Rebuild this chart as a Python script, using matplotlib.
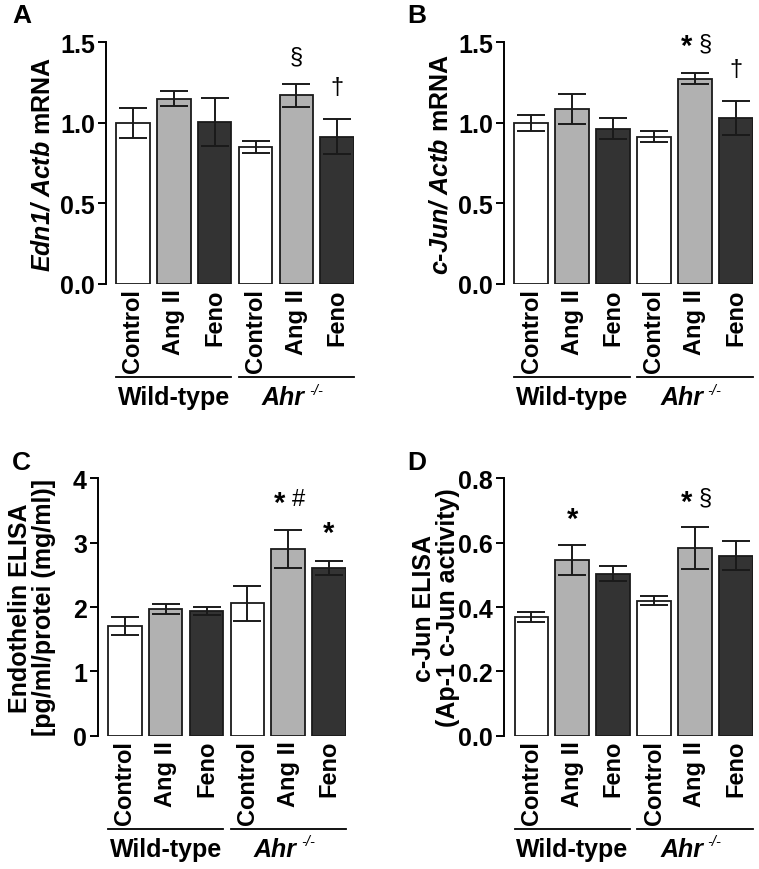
import numpy as np
import matplotlib
matplotlib.use('Agg')
import matplotlib.pyplot as plt

plt.rcParams['font.family'] = ['Liberation Sans', 'DejaVu Sans']
plt.rcParams['font.weight'] = 'bold'
plt.rcParams['mathtext.fontset'] = 'custom'
plt.rcParams['mathtext.rm'] = 'Liberation Sans:bold'
plt.rcParams['mathtext.bf'] = 'Liberation Sans:bold'
plt.rcParams['mathtext.it'] = 'Liberation Sans:italic:bold'
plt.rcParams['mathtext.bfit'] = 'Liberation Sans:italic:bold'

# ---- data ----
groups = ['Control', 'Ang II', 'Feno', 'Control', 'Ang II', 'Feno']
colors = ['white', '#b1b1b1', '#333333', 'white', '#b1b1b1', '#333333']

edn1_mean = [1.00, 1.15, 1.005, 0.85, 1.17, 0.915]
edn1_err = [0.095, 0.045, 0.15, 0.035, 0.073, 0.11]

cjun_mean = [1.00, 1.085, 0.965, 0.915, 1.275, 1.03]
cjun_err = [0.05, 0.095, 0.065, 0.035, 0.035, 0.105]

et_mean = [1.71, 1.97, 1.94, 2.06, 2.90, 2.61]
et_err = [0.14, 0.08, 0.06, 0.27, 0.30, 0.11]

cjel_mean = [0.37, 0.547, 0.504, 0.42, 0.583, 0.56]
cjel_err = [0.016, 0.047, 0.022, 0.015, 0.066, 0.044]

W, H = 759, 870
fig = plt.figure(figsize=(W/100, H/100), dpi=100)

def fx(px): return px / W
def fy(py): return 1 - py / H

def panel(rect, mean, err, ymax, yticks, yticklabels, ylabel, letter, letter_xy,
          notes, ylab_x=None):
    l, r, t, b = rect
    ax = fig.add_axes([fx(l), fy(b), fx(r) - fx(l), fy(t) - fy(b)])
    x = np.arange(len(mean))
    ax.bar(x, mean, width=0.82, color=colors, edgecolor='#1a1a1a', linewidth=1.3, zorder=2)
    ax.errorbar(x, mean, yerr=err, fmt='none', ecolor='#1a1a1a', elinewidth=1.4,
                capsize=10, capthick=1.4, zorder=3)
    ax.set_xlim(-0.66, 5.41)
    ax.set_ylim(0, ymax)
    for s in ['top', 'right', 'bottom']:
        ax.spines[s].set_visible(False)
    ax.spines['left'].set_linewidth(1.4)
    ax.spines['left'].set_bounds(0, ymax)
    ax.set_yticks(yticks)
    ax.set_yticklabels(yticklabels, fontsize=18, fontweight='bold')
    ax.tick_params(axis='y', length=6, width=1.4, pad=2)
    ax.set_xticks(x)
    ax.set_xticklabels(groups, rotation=90, fontsize=17, fontweight='bold')
    ax.tick_params(axis='x', length=0, pad=3)
    ax.set_ylabel(ylabel, fontsize=18, fontweight='bold', labelpad=4,
                  linespacing=1.0)
    if ylab_x is not None:
        ax.yaxis.set_label_coords(ylab_x, 0.5)
    fig.text(fx(letter_xy[0]), fy(letter_xy[1]), letter, fontsize=19,
             fontweight='bold', ha='left', va='center')
    for xi, yv, txt, wt in notes:
        ax.text(xi, yv, txt, ha='center', va='center',
                fontsize=21 if txt == '*' else 17, fontweight=wt)
    # group lines and labels
    line_y = b + 93
    text_y = b + 113
    for i0 in [0, 3]:
        x0 = ax.transData.transform((i0 - 0.41, 0))[0]
        x1 = ax.transData.transform((i0 + 2.41, 0))[0]
        fig.add_artist(plt.Line2D([x0 / W, x1 / W], [fy(line_y), fy(line_y)],
                                  color='black', lw=1.3))
        xc = (x0 + x1) / 2
        if i0 == 0:
            fig.text(xc / W, fy(text_y), 'Wild-type', ha='center', va='center',
                     fontsize=18, fontweight='bold')
        else:
            t_ahr = fig.text((xc - 13) / W, fy(text_y), 'Ahr', ha='center',
                             va='center', fontsize=18, fontweight='bold',
                             style='italic')
            ax.annotate('-/-', xy=(1, 0.8), xycoords=t_ahr, xytext=(3, 0),
                        textcoords='offset points', ha='left', va='center',
                        fontsize=10.5, style='italic', fontweight='normal',
                        annotation_clip=False)
    return ax

# panel A
panel((106, 354, 43.3, 285), edn1_mean, edn1_err, 1.5, [0, 0.5, 1.0, 1.5],
      ['0.0', '0.5', '1.0', '1.5'],
      r'$\mathbfit{Edn1/}$ $\mathbfit{Actb}$ mRNA', 'A', (12, 16),
      [(4, 1.415, '§', 'normal'), (5, 1.22, '†', 'normal')])

# panel B
panel((504, 752.7, 43.3, 285), cjun_mean, cjun_err, 1.5, [0, 0.5, 1.0, 1.5],
      ['0.0', '0.5', '1.0', '1.5'],
      r'$\mathbfit{c}$-$\mathbfit{Jun/}$ $\mathbfit{Actb}$ mRNA', 'B', (407, 16),
      [(3.8, 1.48, '*', 'bold'), (4.25, 1.495, '§', 'normal'),
       (5, 1.335, '†', 'normal')])

# panel C
panel((98, 345.7, 479.3, 736.7), et_mean, et_err, 4, [0, 1, 2, 3, 4],
      ['0', '1', '2', '3', '4'],
      'Endothelin ELISA\n[pg/ml/protei (mg/ml)]', 'C', (12, 463),
      [(3.8, 3.62, '*', 'bold'), (4.25, 3.68, '#', 'normal'),
       (5, 3.15, '*', 'bold')], ylab_x=-0.17)

# panel D
panel((504.3, 752.7, 479.3, 736.7), cjel_mean, cjel_err, 0.8,
      [0, 0.2, 0.4, 0.6, 0.8], ['0.0', '0.2', '0.4', '0.6', '0.8'],
      'c-Jun ELISA\n(Ap-1 c-Jun activity)', 'D', (407, 463),
      [(1, 0.675, '*', 'bold'), (3.8, 0.725, '*', 'bold'),
       (4.25, 0.74, '§', 'normal')], ylab_x=-0.178)

fig.savefig('out.png', dpi=100, facecolor='white')
